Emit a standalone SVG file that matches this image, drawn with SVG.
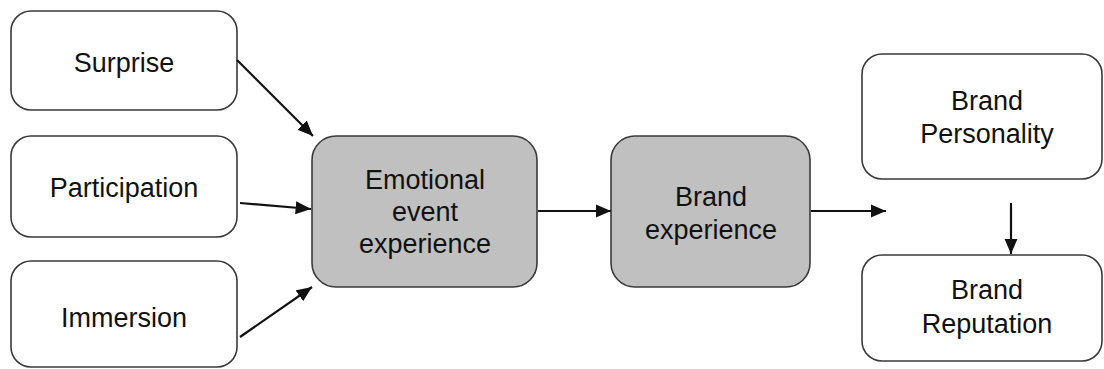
<svg xmlns="http://www.w3.org/2000/svg" width="1104" height="369" viewBox="0 0 1104 369">
  <style>
    .box { fill: #ffffff; stroke: #3a3a3a; stroke-width: 1.6; }
    .grey { fill: #c0c0c0; }
    .lbl { font-family: "Liberation Sans", Arial, sans-serif; font-size: 27px; fill: #111111; text-anchor: middle; }
    .edge { stroke: #111111; stroke-width: 2.2; fill: none; marker-end: url(#arrow); }
  </style>
  <defs>
    <marker id="arrow" viewBox="0 0 14 12" refX="14" refY="6" markerWidth="7" markerHeight="6" markerUnits="strokeWidth" orient="auto">
      <path d="M0,0 L14,6 L0,12 z" fill="#111111"/>
    </marker>
  </defs>

  <g id="surprise">
    <rect class="box" x="11" y="11" width="226" height="99" rx="20"/>
    <text class="lbl" x="124" y="72">Surprise</text>
  </g>
  <g id="participation">
    <rect class="box" x="11" y="136" width="226" height="101" rx="20"/>
    <text class="lbl" x="124" y="197">Participation</text>
  </g>
  <g id="immersion">
    <rect class="box" x="11" y="261" width="226" height="106" rx="20"/>
    <text class="lbl" x="124" y="327">Immersion</text>
  </g>
  <g id="emotional-event-experience">
    <rect class="box grey" x="312" y="136" width="225" height="151" rx="24"/>
    <text class="lbl" x="425" y="189">Emotional</text>
    <text class="lbl" x="425" y="221">event</text>
    <text class="lbl" x="425" y="253">experience</text>
  </g>
  <g id="brand-experience">
    <rect class="box grey" x="611" y="136" width="199" height="151" rx="24"/>
    <text class="lbl" x="711" y="206">Brand</text>
    <text class="lbl" x="711" y="239">experience</text>
  </g>
  <g id="brand-personality">
    <rect class="box" x="862" y="54" width="240" height="125" rx="20"/>
    <text class="lbl" x="987" y="110">Brand</text>
    <text class="lbl" x="987" y="143">Personality</text>
  </g>
  <g id="brand-reputation">
    <rect class="box" x="862" y="255" width="240" height="106" rx="20"/>
    <text class="lbl" x="987" y="299">Brand</text>
    <text class="lbl" x="987" y="333">Reputation</text>
  </g>

  <g id="connectors">
    <line class="edge" x1="237" y1="60" x2="313" y2="136"/>
    <line class="edge" x1="240" y1="203" x2="311" y2="209"/>
    <line class="edge" x1="240" y1="337" x2="312" y2="287"/>
    <line class="edge" x1="538" y1="211" x2="611" y2="211"/>
    <line class="edge" x1="811" y1="211" x2="886" y2="211"/>
    <line class="edge" x1="1011" y1="203" x2="1011" y2="254"/>
  </g>
</svg>
